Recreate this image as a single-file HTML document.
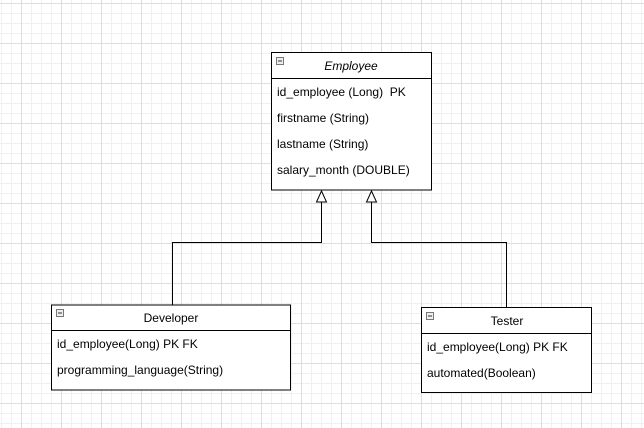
<!DOCTYPE html>
<html><head><style>
html,body{margin:0;padding:0;background:#fff;}
svg{display:block;}
text{font-family:"Liberation Sans",Arial,sans-serif;font-size:12px;fill:#000;white-space:pre;}
</style></head><body>
<svg width="644" height="428" xmlns="http://www.w3.org/2000/svg">
<defs>
<pattern id="minor" width="10" height="10" patternUnits="userSpaceOnUse" x="1" y="3">
<path d="M0.5 0V10M0 0.5H10" stroke="#f0f0f0" stroke-width="1" fill="none"/>
</pattern>
<pattern id="major" width="40" height="40" patternUnits="userSpaceOnUse" x="21" y="3">
<path d="M0.5 0V40M0 0.5H40" stroke="#dedede" stroke-width="1" fill="none"/>
</pattern>
</defs>
<rect width="644" height="428" fill="url(#minor)"/>
<rect width="644" height="428" fill="url(#major)"/>

<g stroke="#000" stroke-width="1" fill="none">
<polyline points="321.5,202 321.5,242.5 172.5,242.5 172.5,305"/>
<polyline points="371.5,202 371.5,242.5 506.5,242.5 506.5,307.5"/>
<polygon points="321.5,191 316.5,202 326.5,202" fill="#fff"/>
<polygon points="371.5,191 366.5,202 376.5,202" fill="#fff"/>

<rect x="271.5" y="52.5" width="160" height="137.5" fill="#fff"/>
<line x1="271.5" y1="78.5" x2="431.5" y2="78.5"/>
<rect x="51.5" y="305" width="239" height="85" fill="#fff"/>
<line x1="51.5" y1="330.5" x2="290.5" y2="330.5"/>
<rect x="421.5" y="307.5" width="170" height="85" fill="#fff"/>
<line x1="421.5" y1="333.5" x2="591.5" y2="333.5"/>
</g>

<g fill="#eee" stroke="#777" stroke-width="1">
<rect x="276.5" y="57.5" width="7" height="7"/>
<rect x="56.5" y="309.5" width="7" height="7"/>
<rect x="426.5" y="312.5" width="7" height="7"/>
</g>
<g stroke="#333" stroke-width="1">
<line x1="278" y1="61" x2="282" y2="61"/>
<line x1="58" y1="313" x2="62" y2="313"/>
<line x1="428" y1="316" x2="432" y2="316"/>
</g>

<text x="351" y="70" text-anchor="middle" font-style="italic" font-size="12.5">Employee</text>
<text x="277" y="96" xml:space="preserve">id_employee (Long)  PK</text>
<text x="277" y="122">firstname (String)</text>
<text x="277" y="148">lastname (String)</text>
<text x="277" y="174">salary_month (DOUBLE)</text>

<text x="171" y="322" text-anchor="middle" font-size="12.5">Developer</text>
<text x="57" y="348">id_employee(Long) PK FK</text>
<text x="57" y="374">programming_language(String)</text>

<text x="507" y="325" text-anchor="middle" font-size="12.5">Tester</text>
<text x="427" y="351">id_employee(Long) PK FK</text>
<text x="427" y="377">automated(Boolean)</text>
</svg>
</body></html>
